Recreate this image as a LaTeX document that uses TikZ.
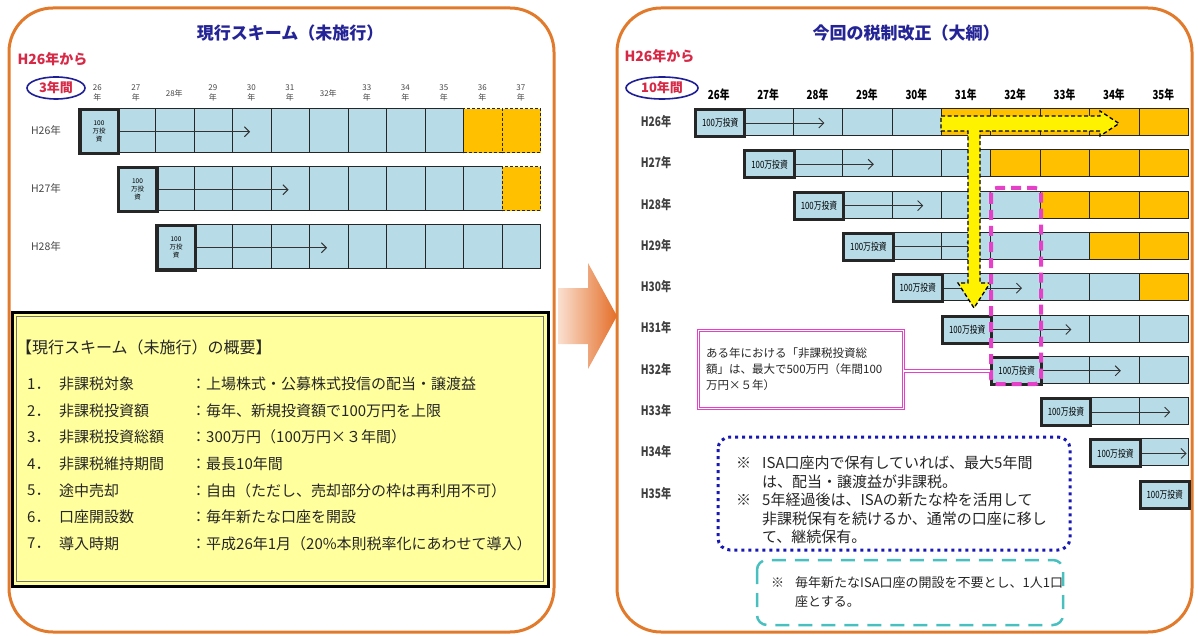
\documentclass[tikz,border=0pt]{standalone}
\usepackage{fontspec}
\newfontfamily\jp{Noto Sans CJK JP}
\newfontfamily\jpc[FakeStretch=0.78]{Noto Sans CJK JP}
\usetikzlibrary{arrows.meta,shapes.geometric,calc}
\definecolor{panelor}{RGB}{226,122,44}
\definecolor{cellblue}{RGB}{183,220,232}
\definecolor{cellor}{RGB}{255,192,0}
\definecolor{titleblue}{RGB}{36,36,150}
\definecolor{hred}{RGB}{215,40,70}
\definecolor{ellblue}{RGB}{30,30,150}
\definecolor{sumyellow}{RGB}{255,255,158}
\definecolor{pinkm}{RGB}{228,64,200}
\definecolor{dotblue}{RGB}{24,24,180}
\definecolor{tealc}{RGB}{72,192,192}
\definecolor{txtgray}{RGB}{70,70,70}
\definecolor{arrL}{RGB}{250,224,208}
\definecolor{arrR}{RGB}{228,110,40}
\begin{document}
\begin{tikzpicture}[x=1pt,y=-1pt,font=\jp,
  panel/.style={draw=panelor,line width=3pt,fill=white,rounded corners=44pt},
  ptitle/.style={text=titleblue,font=\jp\bfseries\fontsize{17}{20}\selectfont},
  hfrom/.style={text=hred,font=\jp\bfseries\fontsize{14}{16}\selectfont,anchor=west},
  yrs/.style={draw=ellblue,line width=1.6pt,ellipse,inner sep=0pt,text=hred,font=\jp\bfseries\fontsize{13}{15}\selectfont},
  cellA/.style={draw=black!85,line width=1.2pt,fill=cellblue,inner sep=0pt,anchor=north west,minimum width=38.5pt,minimum height=44pt},
  cellAo/.style={cellA,fill=cellor,dash pattern=on 3pt off 2pt},
  boxA/.style={cellA,line width=3.5pt,font=\jp\fontsize{6.5}{8}\selectfont,align=center},
  cellB/.style={draw=black!85,line width=1pt,fill=cellblue,inner sep=0pt,anchor=north west,minimum width=49.4pt,minimum height=27pt},
  cellBo/.style={cellB,fill=cellor},
  boxB/.style={cellB,line width=3pt,font=\jpc\fontsize{10}{11}\selectfont},
  hdrA/.style={text=txtgray,font=\jp\fontsize{8}{9.5}\selectfont,align=center},
  hdrB/.style={font=\jpc\bfseries\fontsize{12.5}{14}\selectfont},
  rlabA/.style={text=txtgray,font=\jp\fontsize{10.5}{12}\selectfont},
  rlabB/.style={text=black!75,font=\jpc\bfseries\fontsize{13}{14}\selectfont},
  arr/.style={draw=black!80,line width=0.9pt,-{Straight Barb[length=5pt,width=10pt,line width=0.9pt]}},
  sumtxt/.style={font=\jp\fontsize{15}{18}\selectfont,anchor=west,inner sep=0pt,text=black!85},
  isatxt/.style={font=\jp\fontsize{15}{18}\selectfont,anchor=west,inner sep=0pt,text=black!85},
  cyantxt/.style={font=\jp\fontsize{13}{15}\selectfont,anchor=west,inner sep=0pt,text=black!85}
]
\useasboundingbox (0,0) rectangle (1198,636);
% panels
\draw[panel] (9,8) rectangle (554,632);
\draw[panel] (617,8) rectangle (1192,632);
% ===== left panel =====
\node[ptitle] (ltitle) at (290,33) {現行スキーム（未施行）};
\node[hfrom] (lfrom) at (14,59) {H26年から};
\node[yrs,minimum width=58pt,minimum height=22pt] (lyrs) at (56,88) {3年間};
\foreach \c in {0,...,11}{
  \pgfmathtruncatemacro\yr{26+\c}
  \pgfmathsetmacro\hx{78+38.5*(\c+0.5)}
  \ifnum\c=2 \node[hdrA] (LH\c) at (\hx,93) {\yr 年};
  \else\ifnum\c=6 \node[hdrA] (LH\c) at (\hx,93) {\yr 年};
  \else \node[hdrA] (LH\c) at (\hx,93) {\yr\\年};\fi\fi
}
\foreach \r in {0,1,2}{
  \pgfmathsetmacro\ty{108+58*\r}
  \pgfmathtruncatemacro\yr{26+\r}
  \node[rlabA] (LL\r) at (46,\ty+22) {H\yr 年};
  \foreach \c in {\r,...,11}{
    \pgfmathsetmacro\tx{78+38.5*\c}
    \pgfmathtruncatemacro\d{\c-\r}
    \ifnum\d=0 \else
      \ifnum\d<10 \node[cellA] (LC\r-\c) at (\tx,\ty) {};
      \else \node[cellAo] (LC\r-\c) at (\tx,\ty) {};\fi
    \fi
  }
  \node[boxA] (LB\r) at (78+38.5*\r,\ty) {100\\万投\\資};
  \draw[arr] (LB\r.east) -- ++(130,0);
}
% summary box
\draw[draw=black,line width=3pt,fill=sumyellow] (12,312) rectangle (548,586);
\draw[draw=black!55,line width=1pt] (16.5,316.5) rectangle (543.5,581.5);
\node[sumtxt,font=\jp\fontsize{16}{18}\selectfont] (stitle) at (16,347) {【現行スキーム（未施行）の概要】};
\foreach \i/\lab/\val in {
  1/非課税対象/上場株式・公募株式投信の配当・譲渡益,
  2/非課税投資額/毎年、新規投資額で100万円を上限,
  3/非課税投資総額/300万円（100万円×３年間）,
  4/非課税維持期間/最長10年間,
  5/途中売却/自由（ただし、売却部分の枠は再利用不可）,
  6/口座開設数/毎年新たな口座を開設,
  7/導入時期/平成26年1月（20\%本則税率化にあわせて導入）}{
  \pgfmathsetmacro\ly{384+26.6*(\i-1)}
  \node[sumtxt] (SN\i) at (27,\ly) {\i．};
  \node[sumtxt] (SL\i) at (59,\ly) {\lab};
  \node[sumtxt] (SV\i) at (191,\ly) {：\val};
}
% middle arrow
\shade[left color=arrL,right color=arrR] (558,288) -- (588,288) -- (588,263) -- (617,316) -- (588,369) -- (588,344) -- (558,344) -- cycle;
% ===== right panel =====
\node[ptitle] (rtitle) at (906,33) {今回の税制改正（大綱）};
\node[hfrom] (rfrom) at (621,56) {H26年から};
\node[yrs,minimum width=72pt,minimum height=22pt] (ryrs) at (662,88) {10年間};
\foreach \c in {0,...,9}{
  \pgfmathtruncatemacro\yr{26+\c}
  \node[hdrB] (RH\c) at (694+49.4*\c+24.7,95) {\yr 年};
}
\foreach \r in {0,...,9}{
  \pgfmathsetmacro\ty{108+41.3*\r}
  \pgfmathtruncatemacro\yr{26+\r}
  \node[rlabB] (RL\r) at (656,\ty+13.5) {H\yr 年};
  \foreach \c in {\r,...,9}{
    \pgfmathsetmacro\tx{694+49.4*\c}
    \pgfmathtruncatemacro\d{\c-\r}
    \ifnum\d=0 \else
      \ifnum\d<5 \node[cellB] (RC\r-\c) at (\tx,\ty) {};
      \else \node[cellBo] (RC\r-\c) at (\tx,\ty) {};\fi
    \fi
  }
  \node[boxB] (RB\r) at (694+49.4*\r,\ty) {100万投資};
}
\foreach \r in {0,...,7}{ \draw[arr] (RB\r.east) -- ++(78,0); }
\draw[arr] (RB8.east) -- ++(45,0);
% yellow arrow
\draw[draw=black,line width=1.3pt,dash pattern=on 4pt off 2.5pt,fill=yellow]
  (941,116) -- (1100,116) -- (1100,111) -- (1119,123.5) -- (1100,136) -- (1100,131)
  -- (980,131) -- (980,283) -- (990,283) -- (974,308) -- (958,283) -- (968,283)
  -- (968,131) -- (941,131) -- cycle;
% pink dashed frame
\draw[pinkm,line width=4pt,dash pattern=on 10pt off 6pt,rounded corners=6pt] (991,188) rectangle (1041,384);
% callout
\node[draw=pinkm,double=white,double distance=1.5pt,line width=1pt,minimum width=205pt,minimum height=78pt,anchor=north west,text width=190pt,align=left,font=\jp\fontsize{11.5}{16}\selectfont,text=black!85] (call) at (698,330) {ある年における「非課税投資総\\額」は、最大で500万円（年間100\\万円×５年）};
\draw[pinkm,double=white,double distance=1.5pt,line width=1pt] (call.east |- RB6.west) -- (RB6.west);
% blue dotted box
\draw[dotblue,line width=3pt,dash pattern=on 3pt off 4pt,rounded corners=12pt] (718,437) rectangle (1070,550);
\node[isatxt] (i1a) at (736,463) {※};
\node[isatxt] (i1) at (762,463) {ISA口座内で保有していれば、最大5年間};
\node[isatxt] (i2) at (762,481.5) {は、配当・譲渡益が非課税。};
\node[isatxt] (i3a) at (736,500) {※};
\node[isatxt] (i3) at (762,500) {5年経過後は、ISAの新たな枠を活用して};
\node[isatxt] (i4) at (762,518.5) {非課税保有を続けるか、通常の口座に移し};
\node[isatxt] (i5) at (762,537) {て、継続保有。};
% cyan dashed box
\draw[tealc,line width=2.5pt,dash pattern=on 14pt off 9pt,rounded corners=10pt] (757,560) rectangle (1063,625);
\node[cyantxt] (c1a) at (771,583) {※};
\node[cyantxt] (c1) at (795,583) {毎年新たなISA口座の開設を不要とし、1人1口};
\node[cyantxt] (c2) at (795,602) {座とする。};
\end{tikzpicture}
\end{document}
